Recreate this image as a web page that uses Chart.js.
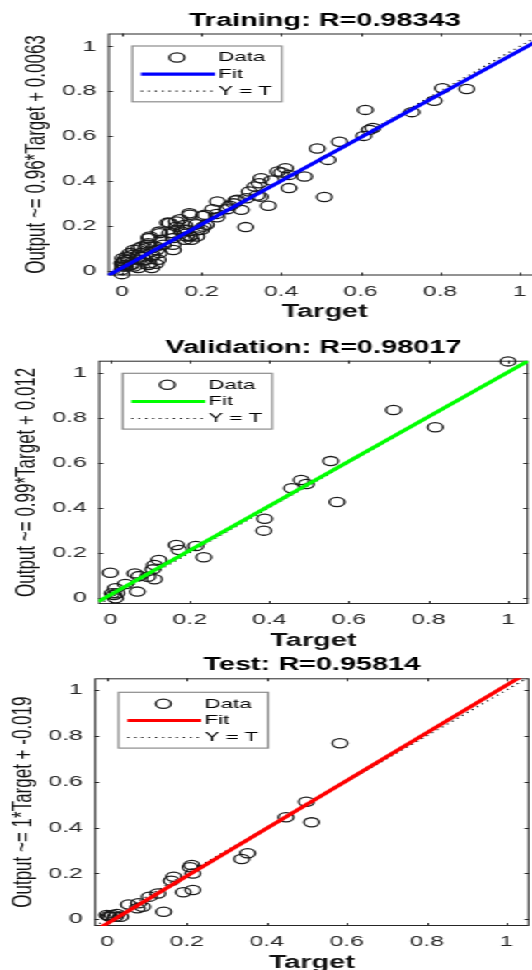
<!DOCTYPE html>
<html><head><meta charset="utf-8">
<script src="https://cdn.jsdelivr.net/npm/chart.js@4.4.1/dist/chart.umd.min.js"></script>
<style>
html,body{margin:0;padding:0;background:#fff;width:532px;height:970px;overflow:hidden;}
#wrap{position:absolute;left:0;top:0;width:340px;height:980px;transform:scaleX(1.65);transform-origin:0 0;}
#wrap canvas{position:absolute;left:0;}
</style></head><body>
<div id="wrap">
<canvas id="c1" width="340" height="330" style="top:0px"></canvas>
<canvas id="c2" width="340" height="330" style="top:330px"></canvas>
<canvas id="c3" width="340" height="340" style="top:640px"></canvas>
</div>
<script>
// ---------- data ----------
const tickValues = [0, 0.2, 0.4, 0.6, 0.8, 1];
const tickLabels = ['0', '0.2', '0.4', '0.6', '0.8', '1'];
const legendLabels = ['Data', 'Fit', 'Y = T'];
const panelTitles = ['Training: R=0.98343', 'Validation: R=0.98017', 'Test: R=0.95814'];
const yAxisLabels = ['Output ~= 0.96*Target + 0.0063', 'Output ~= 0.99*Target + 0.012', 'Output ~= 1*Target + -0.019'];
const xAxisLabel = 'Target';

const trainTarget = [0.612,0.806,0.867,0.785,0.729,0.631,0.622,0.608,0.547,0.491,0.518,0.411,0.401,0.392,0.459,0.42,0.42,0.509,0.368,0.35,
  0.345,0.376,0.334,0.32,0.34,0.348,0.313,0.286,0.29,0.281,0.24,0.271,0.30,0.264,0.228,0.238,0.239,0.171,0.204,0.209,
  0.17,0.311,0.146,0.137,0.212,0.187,0.205,0.137,0.162,0.2,0.19,0.154,0.129,0.171,0.171,0.188,0.158,0.12,0.115,0.158,
  0.15,0.12,0.095,0.094,0.07,0.162,0.129,0.175,0.098,0.068,0.066,0.104,0.128,0.064,0.049,0.085,0.06,0.043,0.087,0.129,
  0.03,0.02,0.047,0.094,0.041,0.077,0.026,0.075,0.051,0.013,0.002,0.0075,0.058,0.091,0.017,0.043,0.005,0.0,0.024,0.066,
  0.068,0.085,0.02,0.004,0.002,0.009,0.03,0.041,0.075,0.0,0.0];
const trainOutput = [0.717,0.814,0.810,0.758,0.707,0.636,0.628,0.601,0.575,0.545,0.494,0.457,0.438,0.442,0.42,0.427,0.368,0.328,0.289,0.412,
  0.39,0.402,0.375,0.353,0.335,0.33,0.323,0.3125,0.316,0.3,0.308,0.289,0.271,0.274,0.274,0.253,0.238,0.249,0.244,0.249,
  0.256,0.194,0.229,0.219,0.204,0.207,0.196,0.196,0.182,0.182,0.18,0.182,0.167,0.155,0.152,0.152,0.137,0.212,0.214,0.204,
  0.174,0.167,0.167,0.174,0.152,0.152,0.145,0.137,0.137,0.145,0.122,0.115,0.115,0.115,0.107,0.107,0.1,0.1,0.092,0.092,
  0.093,0.078,0.078,0.078,0.07,0.07,0.07,0.0625,0.0625,0.0625,0.055,0.048,0.048,0.048,0.048,0.048,0.04,0.033,0.025,0.025,
  0.033,0.03,0.025,0.025,0.018,0.018,0.018,0.011,0.011,0.003,-0.016];
const trainFit = [0.97, 0.012];   // slope, intercept of the drawn fit line

const valTarget = [1.0,0.712,0.817,0.554,0.570,0.48,0.493,0.456,0.388,0.386,0.215,0.235,0.166,0.173,0.122,0.111,0.107,0.111,0.072,0.062,
  0.094,0.0,0.068,0.038,0.013,0.017,0.009,0.013,0.005];
const valOutput = [1.05,0.834,0.757,0.607,0.425,0.523,0.505,0.486,0.351,0.298,0.23,0.18,0.234,0.212,0.168,0.145,0.126,0.082,0.096,0.108,
  0.093,0.111,0.027,0.061,0.042,0.02,0.012,-0.003,0.02];
const valFit = [0.99, 0.012];

const testTarget = [0.583,0.499,0.512,0.448,0.352,0.337,0.212,0.208,0.215,0.215,0.191,0.167,0.161,0.127,0.106,0.142,0.054,0.079,0.089,0.076,
  0.025,0.013,0.034,0.0,0.008,0.021,0.004];
const testOutput = [0.768,0.513,0.423,0.445,0.288,0.263,0.237,0.227,0.2,0.128,0.118,0.186,0.168,0.113,0.099,0.033,0.065,0.07,0.055,0.048,
  0.023,0.019,0.011,0.019,0.011,0.011,0.014];
const testFit = [1.04, -0.019];

// ---------- plugins ----------
const boxPlugin = {
  id: 'matlabBox',
  beforeDatasetsDraw(chart) {
    const {ctx, chartArea: a, scales: {x, y}} = chart;
    ctx.save();
    ctx.strokeStyle = '#262626';
    ctx.lineWidth = 1;
    ctx.strokeRect(a.left + 0.5, a.top + 0.5, a.right - a.left - 1, a.bottom - a.top - 1);
    const tl = 3;
    ctx.beginPath();
    x.ticks.forEach(t => {
      const px = Math.round(x.getPixelForValue(t.value)) + 0.5;
      ctx.moveTo(px, a.bottom); ctx.lineTo(px, a.bottom - tl);
      ctx.moveTo(px, a.top); ctx.lineTo(px, a.top + tl);
    });
    y.ticks.forEach(t => {
      const py = Math.round(y.getPixelForValue(t.value)) + 0.5;
      ctx.moveTo(a.left, py); ctx.lineTo(a.left + tl, py);
      ctx.moveTo(a.right, py); ctx.lineTo(a.right - tl, py);
    });
    ctx.stroke();
    ctx.restore();
  }
};

const legendPlugin = {
  id: 'matlabLegend',
  afterDraw(chart, args, o) {
    const {ctx, chartArea: a} = chart;
    const ds = chart.data.datasets;
    const dData = ds.find(d => d.label === legendLabels[0]);
    const dFit = ds.find(d => d.label === legendLabels[1]);
    const dId = ds.find(d => d.label === legendLabels[2]);
    const L = a.left + o.dx, T = a.top + o.dy, W = 90.6, H = 55.8;
    ctx.save();
    ctx.fillStyle = '#fff';
    ctx.fillRect(L, T, W, H);
    ctx.strokeStyle = '#8c8c8c';
    ctx.lineWidth = 1.2;
    ctx.strokeRect(L, T, W, H);
    const rowY = [11.5, 28.2, 45.2];
    ctx.beginPath();
    ctx.arc(L + 27.1, T + rowY[0], dData.pointRadius, 0, Math.PI * 2);
    ctx.lineWidth = dData.pointBorderWidth;
    ctx.strokeStyle = dData.pointBorderColor;
    ctx.stroke();
    ctx.beginPath();
    ctx.moveTo(L + 5.3, T + rowY[1]); ctx.lineTo(L + 50.1, T + rowY[1]);
    ctx.lineWidth = dFit.borderWidth; ctx.strokeStyle = dFit.borderColor;
    ctx.stroke();
    ctx.beginPath();
    ctx.setLineDash(dId.borderDash);
    ctx.moveTo(L + 5.3, T + rowY[2]); ctx.lineTo(L + 50.1, T + rowY[2]);
    ctx.lineWidth = dId.borderWidth; ctx.strokeStyle = dId.borderColor;
    ctx.stroke();
    ctx.setLineDash([]);
    ctx.fillStyle = '#000';
    ctx.font = '13.5px "Liberation Sans", Arial, sans-serif';
    ctx.textBaseline = 'middle';
    ctx.textAlign = 'left';
    [dData, dFit, dId].forEach((d, i) => ctx.fillText(d.label, L + 52, T + rowY[i]));
    ctx.restore();
  }
};

const FONT = '"Liberation Sans", Arial, sans-serif';

function makeChart(id, cfg) {
  const pts = cfg.target.map((t, i) => ({x: t, y: cfg.output[i]}));
  const [xmin, xmax] = cfg.xLim, [ymin, ymax] = cfg.yLim;
  const fitPts = [{x: xmin, y: cfg.fit[0] * xmin + cfg.fit[1]}, {x: xmax, y: cfg.fit[0] * xmax + cfg.fit[1]}];
  const lo = Math.min(xmin, ymin), hi = Math.max(xmax, ymax);
  const idPts = [{x: lo, y: lo}, {x: hi, y: hi}];
  return new Chart(document.getElementById(id), {
    type: 'scatter',
    data: {datasets: [
      {label: legendLabels[1], type: 'line', data: fitPts, borderColor: cfg.color, borderWidth: 3.2,
       pointRadius: 0, fill: false, order: 0, clip: 0},
      {label: legendLabels[2], type: 'line', data: idPts, borderColor: '#111', borderWidth: 1.2, borderDash: [1.2, 3],
       pointRadius: 0, fill: false, order: 1, clip: 0},
      {label: legendLabels[0], data: pts, showLine: false, pointStyle: 'circle', pointRadius: 4.6, pointBorderWidth: 1.3,
       pointBorderColor: '#1a1a1a', pointBackgroundColor: 'rgba(0,0,0,0)', order: 2, clip: false}
    ]},
    options: {
      responsive: false, animation: false,
      layout: {padding: cfg.pad},
      plugins: {
        legend: {display: false},
        tooltip: {enabled: false},
        title: {display: true, text: cfg.title, fullSize: false, color: '#000',
          font: {family: FONT, size: 17.5, weight: 'bold', lineHeight: 1.2}, padding: {top: 0, bottom: cfg.titleGap}},
        matlabLegend: {dx: 14.7, dy: cfg.legDy}
      },
      scales: {
        x: {
          type: 'linear', min: xmin, max: xmax,
          grid: {display: false, drawTicks: false}, border: {display: false},
          afterBuildTicks: s => { s.ticks = tickValues.map(v => ({value: v})); },
          ticks: {padding: 7, color: '#262626', autoSkip: false, maxRotation: 0,
            font: {family: FONT, size: 15}, callback: v => tickLabels[tickValues.indexOf(v)]},
          title: {display: true, text: xAxisLabel, color: '#111',
            font: {family: FONT, size: 17.5, weight: 'bold', lineHeight: 1.2}, padding: 0},
          afterFit: s => { s.height = 47.5; }
        },
        y: {
          type: 'linear', min: ymin, max: ymax,
          grid: {display: false, drawTicks: false}, border: {display: false},
          afterBuildTicks: s => { s.ticks = tickValues.map(v => ({value: v})); },
          ticks: {padding: 7, color: '#262626', autoSkip: false,
            font: {family: FONT, size: 15}, callback: v => tickLabels[tickValues.indexOf(v)]},
          title: {display: true, text: cfg.ylabel, color: '#111',
            font: {family: FONT, size: 17, lineHeight: 1.2}, padding: {top: cfg.yTitlePad, bottom: 0}},
          afterFit: s => { s.width = cfg.yW; }
        }
      }
    },
    plugins: [boxPlugin, legendPlugin]
  });
}

makeChart('c1', {target: trainTarget, output: trainOutput, fit: trainFit, color: '#0000ff',
  title: panelTitles[0], ylabel: yAxisLabels[0], xLim: [-0.035, 1.055], yLim: [-0.022, 1.058],
  pad: {left: 0, right: 11.8, top: 10.5, bottom: 7}, titleGap: 2, yW: 65.45, yTitlePad: 12, legDy: 12.5});
makeChart('c2', {target: valTarget, output: valOutput, fit: valFit, color: '#00ff00',
  title: panelTitles[1], ylabel: yAxisLabels[1], xLim: [-0.030, 1.051], yLim: [-0.028, 1.053],
  pad: {left: 0, right: 19.8, top: 7.5, bottom: 8.5}, titleGap: 2.2, yW: 59.6, yTitlePad: 6.1, legDy: 12.6});
makeChart('c3', {target: testTarget, output: testOutput, fit: testFit, color: '#ff0000',
  title: panelTitles[2], ylabel: yAxisLabels[2], xLim: [-0.0315, 1.057], yLim: [-0.029, 1.051],
  pad: {left: 0, right: 19.2, top: 14.5, bottom: 6.5}, titleGap: 2.8, yW: 57.2, yTitlePad: 3.7, legDy: 14});
</script>
</body></html>
